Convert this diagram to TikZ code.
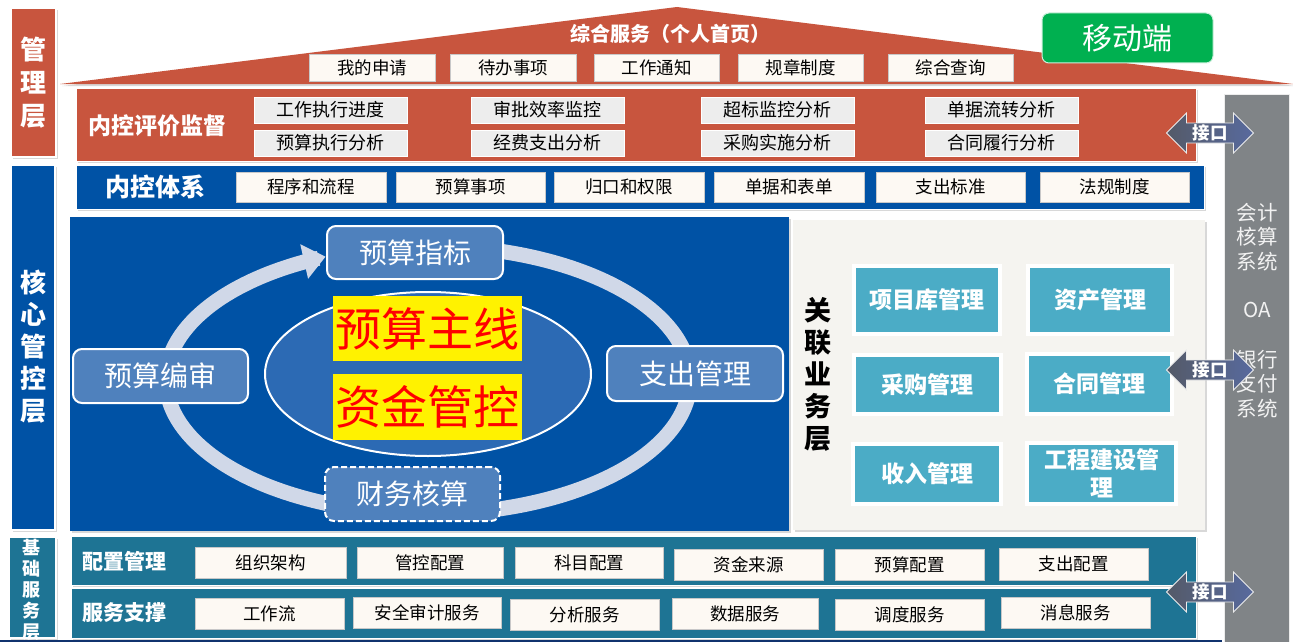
\documentclass[tikz,border=0pt]{standalone}
\usepackage{fontspec}
\setmainfont{Noto Sans CJK SC}
\usetikzlibrary{shadows,arrows.meta,shapes.geometric}
\definecolor{roofred}{RGB}{200,85,62}
\definecolor{coreblue}{RGB}{0,82,165}
\definecolor{tealband}{RGB}{30,116,148}
\definecolor{cream}{RGB}{253,249,243}
\definecolor{evalgray}{RGB}{237,237,237}
\definecolor{cyclebox}{RGB}{79,129,189}
\definecolor{ringcol}{RGB}{208,216,232}
\definecolor{innerblue}{RGB}{44,106,180}
\definecolor{bizteal}{RGB}{75,172,198}
\definecolor{panelgray}{RGB}{245,244,240}
\definecolor{sidegray}{RGB}{128,132,135}
\definecolor{mobgreen}{RGB}{0,176,80}
\definecolor{arrL}{RGB}{84,90,104}
\definecolor{arrR}{RGB}{88,106,158}
\definecolor{boxline}{RGB}{200,200,200}
\definecolor{navyline}{RGB}{16,50,110}
\definecolor{sidetext}{RGB}{242,242,242}
\newcommand\fsz[1]{\fontsize{#1pt}{#1pt}\selectfont}
\newcommand\fszb[2]{\fontsize{#1pt}{#2pt}\selectfont}
\newcommand\bx[7]{\node[#6, minimum width={(#4-#2)*1pt}, minimum height={(#5-#3)*1pt}] (#1) at ({(#2+#4)/2},{(#3+#5)/2}) {#7};}
\newcommand\jk[2]{%
  \path[left color=arrL, right color=arrR, draw=white!85!gray, line width=0.8pt]
   (1166.5,#2) -- (1186.5,#2-20) -- (1186.5,#2-10) -- (1233.5,#2-10) -- (1233.5,#2-20)
   -- (1253.5,#2) -- (1233.5,#2+20) -- (1233.5,#2+10) -- (1186.5,#2+10) -- (1186.5,#2+20) -- cycle;
  \node[text=white, font=\bfseries\fsz{17.5}] (#1) at (1210,#2) {接口};}
\tikzset{
  every node/.style={inner sep=0pt, outer sep=0pt},
  shd/.style={drop shadow={shadow xshift=2pt,shadow yshift=-2pt,opacity=0.3}},
  band/.style={rectangle, draw=white, line width=1pt, shd},
  lblbox/.style={rectangle, draw=white, line width=1.5pt, shd},
  lbltext/.style={text=white, font=\bfseries, align=center},
  roofbox/.style={rectangle, fill=cream, draw=boxline, line width=0.8pt, font=\fsz{17.5}},
  evalbox/.style={rectangle, fill=evalgray, draw=white, line width=0.6pt, font=\fsz{18}},
  sysbox/.style={rectangle, fill=cream, draw=boxline, line width=0.8pt, font=\fsz{17.5}},
  basebox/.style={rectangle, fill=cream, draw=boxline, line width=0.8pt, font=\fsz{17.5}},
  cyc/.style={rectangle, rounded corners=9pt, fill=cyclebox, draw=white, line width=2pt, text=white, font=\fsz{28}},
  hl/.style={rectangle, fill=yellow, text=red, font=\fsz{46}},
  biz/.style={rectangle, fill=bizteal, draw=white, line width=4pt, text=white, font=\bfseries\fszb{23}{28}, align=center, shd},
  ttl/.style={text=white, font=\bfseries\fsz{23}},
}
\begin{document}
\begin{tikzpicture}[x=1pt,y=-1pt]
\fill[white] (0,0) rectangle (1293,642);
\useasboundingbox (0,0) rectangle (1293,642);

% roof
\path[fill=roofred, shd] (60,84) -- (677,7) -- (1293,84) -- cycle;
\node[text=white, font=\bfseries\fsz{20}] (rooft) at (670,34) {综合服务（个人首页）};
\bx{r1}{309}{54}{435}{81}{roofbox}{我的申请}
\bx{r2}{450}{54}{576}{81}{roofbox}{待办事项}
\bx{r3}{594}{54}{719}{81}{roofbox}{工作通知}
\bx{r4}{738}{54}{863}{81}{roofbox}{规章制度}
\bx{r5}{888}{54}{1013}{81}{roofbox}{综合查询}
\bx{mob}{1042}{13}{1213}{63}{rectangle, rounded corners=7pt, fill=mobgreen, draw=white!80!mobgreen, line width=1pt, text=white, font=\fsz{30}}{移动端}

% evaluation band
\bx{evalband}{76}{88}{1196}{161}{band, fill=roofred}{}
\node[ttl] (evalt) at (157,126) {内控评价监督};
\bx{e1}{254}{97}{407}{123}{evalbox}{工作执行进度}
\bx{e2}{471}{97}{624}{123}{evalbox}{审批效率监控}
\bx{e3}{701}{97}{854}{123}{evalbox}{超标监控分析}
\bx{e4}{925}{97}{1078}{123}{evalbox}{单据流转分析}
\bx{e5}{254}{130}{407}{156}{evalbox}{预算执行分析}
\bx{e6}{471}{130}{624}{156}{evalbox}{经费支出分析}
\bx{e7}{701}{130}{854}{156}{evalbox}{采购实施分析}
\bx{e8}{925}{130}{1078}{156}{evalbox}{合同履行分析}

% system band
\bx{sysband}{76}{165}{1204}{209}{band, fill=coreblue}{}
\node[text=white, font=\bfseries\fsz{25}] (syst) at (155,187) {内控体系};
\bx{s1}{236}{172}{386}{202}{sysbox}{程序和流程}
\bx{s2}{396}{172}{545}{202}{sysbox}{预算事项}
\bx{s3}{554}{172}{704}{202}{sysbox}{归口和权限}
\bx{s4}{714}{172}{864}{202}{sysbox}{单据和表单}
\bx{s5}{876}{172}{1025}{202}{sysbox}{支出标准}
\bx{s6}{1040}{172}{1189}{202}{sysbox}{法规制度}

% core area
\bx{core}{70}{217}{789}{531}{rectangle, fill=coreblue, shd}{}
\draw[ringcol, line width=15pt, -{Triangle[width=34pt,length=22pt]}]
  plot[domain=-85:247, samples=120, smooth] ({428+262*cos(\x)},{380+134*sin(\x)});
\node[ellipse, fill=innerblue, draw=white, line width=2pt, minimum width=326pt, minimum height=164pt] (inner) at (428,374) {};
\bx{h1}{333}{296}{522}{361}{hl}{预算主线}
\bx{h2}{333}{374}{522}{440}{hl}{资金管控}
\bx{c1}{327}{226}{503}{279}{cyc}{预算指标}
\bx{c2}{73}{349}{248}{403}{cyc}{预算编审}
\bx{c3}{607}{346}{783}{401}{cyc}{支出管理}
\bx{c4}{325}{467}{500}{521}{cyc, dashed, dash pattern=on 6pt off 3pt}{财务核算}

% related business panel
\bx{panel}{793}{220}{1205}{530}{rectangle, fill=panelgray, shd}{}
\node[font=\bfseries\fszb{27}{32}, align=center] (bizt) at (818,374) {关\\联\\业\\务\\层};
\bx{b1}{854}{266}{1000}{334}{biz}{项目库管理}
\bx{b2}{1028}{266}{1172}{334}{biz}{资产管理}
\bx{b3}{854}{355}{1001}{414}{biz}{采购管理}
\bx{b4}{1027}{354}{1172}{414}{biz}{合同管理}
\bx{b5}{853}{444}{1001}{504}{biz}{收入管理}
\bx{b6}{1027}{443}{1176}{504}{biz}{工程建设管\\理}

% base bands
\bx{cfgband}{71}{536}{1196}{585}{band, fill=tealband}{}
\bx{svcband}{71}{588}{1196}{638}{band, fill=tealband}{}
\node[ttl, font=\bfseries\fsz{21}] (cfgt) at (124,561) {配置管理};
\node[ttl, font=\bfseries\fsz{21}] (svct) at (124,613) {服务支撑};
\bx{f1}{195}{547}{346}{578}{basebox}{组织架构}
\bx{f2}{357}{547}{503}{578}{basebox}{管控配置}
\bx{f3}{515}{547}{663}{578}{basebox}{科目配置}
\bx{f4}{674}{549}{823}{580}{basebox}{资金来源}
\bx{f5}{835}{549}{984}{580}{basebox}{预算配置}
\bx{f6}{999}{548}{1148}{580}{basebox}{支出配置}
\bx{g1}{195}{598}{344}{629}{basebox}{工作流}
\bx{g2}{353}{597}{501}{628}{basebox}{安全审计服务}
\bx{g3}{510}{599}{659}{630}{basebox}{分析服务}
\bx{g4}{672}{598}{818}{629}{basebox}{数据服务}
\bx{g5}{835}{599}{984}{630}{basebox}{调度服务}
\bx{g6}{1001}{597}{1150}{628}{basebox}{消息服务}

% side gray bar
\bx{side}{1224}{94}{1289}{660}{rectangle, fill=sidegray, draw=white!85!gray, line width=0.8pt}{}
\node[text=sidetext, font=\fszb{20.5}{24.5}, align=center] (acc) at (1257,237) {会计\\核算\\系统};
\node[text=sidetext, font=\fsz{20.5}] (oa) at (1257,310) {OA};
\node[text=sidetext, font=\fszb{20.5}{24.5}, align=center] (bank) at (1257,384) {银行\\支付\\系统};

% interface arrows
\jk{jk1}{133}
\jk{jk2}{370}
\jk{jk3}{592}

% left labels
\bx{L1}{11}{8}{56}{157}{lblbox, fill=roofred}{}
\node[lbltext, font=\bfseries\fszb{26}{33}] (L1t) at (33.5,83) {管\\理\\层};
\bx{L2}{11}{165}{55}{530}{lblbox, fill=coreblue}{}
\node[lbltext, font=\bfseries\fszb{26}{32}] (L2t) at (33,347) {核\\心\\管\\控\\层};
\bx{L3}{9}{537}{56}{638}{lblbox, fill=tealband}{}
\node[lbltext, font=\bfseries\fszb{18}{21}] (L3t) at (32,590) {基\\础\\服\\务\\层};

\fill[navyline] (0,639.5) rectangle (1222,642);
\end{tikzpicture}
\end{document}
